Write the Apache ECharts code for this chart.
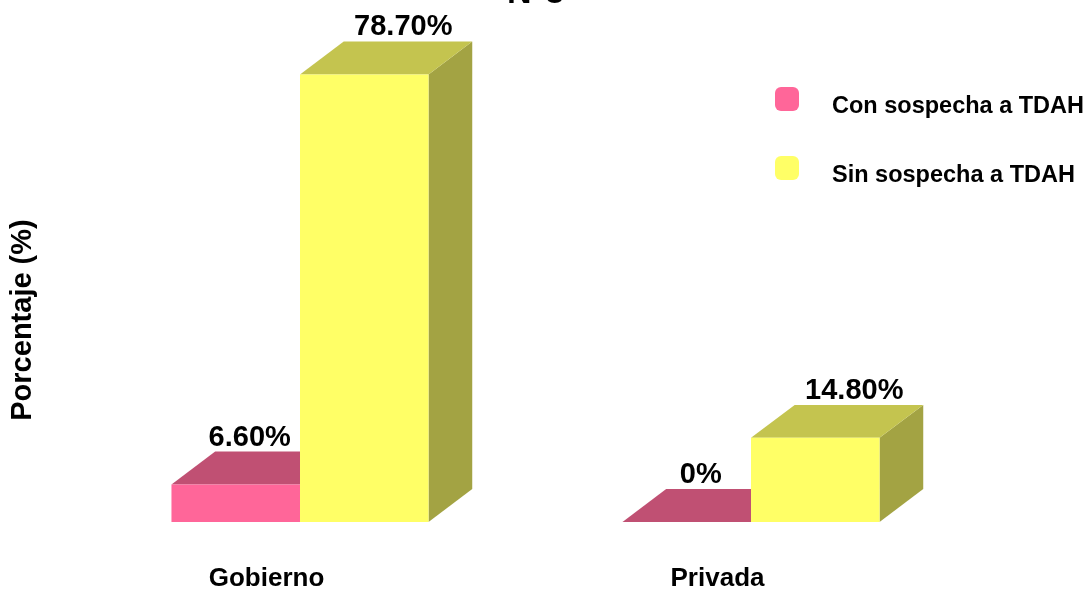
<!DOCTYPE html>
<html>
<head>
<meta charset="utf-8">
<script src="https://cdn.jsdelivr.net/npm/echarts@6/dist/echarts.min.js"></script>
<style>
  html, body { margin: 0; padding: 0; background: #ffffff; }
  #chart { width: 1090px; height: 590px; }
</style>
</head>
<body>
<div id="chart"></div>
<script>
// Institution type per category, percentage of students per group
const categories = ['Gobierno', 'Privada'];
const seriesNames = ['Con sospecha a TDAH', 'Sin sospecha a TDAH'];
const conSospecha = [6.6, 0];
const sinSospecha = [78.7, 14.8];

const FONT = '"Liberation Sans", Arial, sans-serif';

// Face colours for each 3D bar: front, top, side
const faces = [
  { front: '#FF6699', top: '#C05073', side: '#A3415F' },
  { front: '#FFFF66', top: '#C4C44F', side: '#A3A343' }
];

function fmt(v) {
  return v === 0 ? '0%' : v.toFixed(2) + '%';
}

// Draws a box-shaped bar: front rectangle, top and right-side parallelograms
function makeRender(seriesIdx) {
  return function (params, api) {
    const cat = api.value(0);
    const val = api.value(1);
    const base = api.coord([cat, 0]);
    const top = api.coord([cat, val]);
    const band = api.size([1, 0])[0];
    const w = band * 0.285;
    const dx = w * 0.34;
    const dy = w * 0.256;
    const x0 = seriesIdx === 0 ? base[0] - w : base[0];
    const yT = top[1];
    const yB = base[1];
    const f = faces[seriesIdx];
    const labelShift = seriesIdx === 0 ? 14 : 39;
    return {
      type: 'group',
      children: [
        {
          type: 'polygon',
          shape: { points: [[x0 + w, yT], [x0 + w + dx, yT - dy], [x0 + w + dx, yB - dy], [x0 + w, yB]] },
          style: { fill: f.side }
        },
        {
          type: 'polygon',
          shape: { points: [[x0, yT], [x0 + w, yT], [x0 + w + dx, yT - dy], [x0 + dx, yT - dy]] },
          style: { fill: f.top }
        },
        {
          type: 'rect',
          shape: { x: x0, y: yT, width: w, height: yB - yT },
          style: { fill: f.front }
        },
        {
          type: 'text',
          x: x0 + w / 2 + labelShift,
          y: yT - dy - 14,
          style: {
            text: fmt(val),
            font: 'bold 29px ' + FONT,
            fill: '#000000',
            align: 'center',
            verticalAlign: 'middle'
          }
        }
      ]
    };
  };
}

const chart = echarts.init(document.getElementById('chart'), null, { renderer: 'canvas' });

chart.setOption({
  backgroundColor: '#ffffff',
  animation: false,
  title: {
    text: 'N°3',
    left: 502,
    top: -28,
    textStyle: { fontFamily: FONT, fontWeight: 'bold', fontSize: 34, color: '#000000' }
  },
  legend: {
    orient: 'vertical',
    left: 775,
    top: 79,
    padding: 0,
    itemWidth: 24,
    itemHeight: 24,
    itemGap: 29,
    icon: 'roundRect',
    data: seriesNames,
    // an empty first line drops each name slightly below its swatch
    formatter: function (name) { return '\n' + name; },
    textStyle: {
      fontFamily: FONT,
      fontWeight: 'bold',
      fontSize: 23.5,
      color: '#000000',
      lineHeight: 16,
      padding: [0, 0, 0, 28]
    }
  },
  grid: { left: 74.5, right: 113.5, top: 67, bottom: 68, outerBoundsMode: 'none' },
  xAxis: {
    type: 'category',
    data: categories,
    axisLine: { show: false },
    axisTick: { show: false },
    splitLine: { show: false },
    axisLabel: {
      margin: 44,
      fontFamily: FONT,
      fontWeight: 'bold',
      fontSize: 26,
      color: '#000000',
      padding: [0, 67, 0, 0]
    }
  },
  yAxis: {
    type: 'value',
    min: 0,
    max: 80,
    axisLine: { show: false },
    axisTick: { show: false },
    axisLabel: { show: false },
    splitLine: { show: false }
  },
  graphic: [
    {
      type: 'text',
      x: 23,
      y: 320,
      rotation: Math.PI / 2,
      style: {
        text: 'Porcentaje (%)',
        font: 'bold 29px ' + FONT,
        fill: '#000000',
        align: 'center',
        verticalAlign: 'middle'
      }
    }
  ],
  series: [
    {
      name: seriesNames[0],
      type: 'custom',
      itemStyle: { color: faces[0].front },
      renderItem: makeRender(0),
      encode: { x: 0, y: 1 },
      data: conSospecha.map((v, i) => [i, v])
    },
    {
      name: seriesNames[1],
      type: 'custom',
      itemStyle: { color: faces[1].front },
      renderItem: makeRender(1),
      encode: { x: 0, y: 1 },
      data: sinSospecha.map((v, i) => [i, v])
    }
  ]
});
</script>
</body>
</html>
